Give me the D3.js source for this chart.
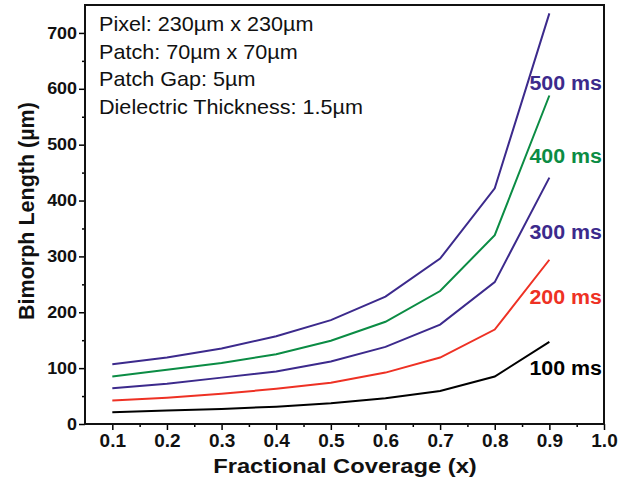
<!DOCTYPE html>
<html>
<head>
<meta charset="utf-8">
<script src="https://cdn.jsdelivr.net/npm/d3@7"></script>
<style>
body { margin: 0; background: #fff; }
text { font-family: Arial, "Liberation Sans", sans-serif; }
</style>
</head>
<body>
<svg id="chart" width="618" height="485"></svg>
<script>
// data
let coverage = [0.1, 0.2, 0.3, 0.4, 0.5, 0.6, 0.7, 0.8, 0.9];
let ms100 = [21, 24, 27, 31, 37, 46, 59, 85, 147];
let ms200 = [42, 47, 54, 63, 74, 92, 119, 169, 294];
let ms300 = [64, 72, 83, 94, 112, 138, 178, 254, 441];
let ms400 = [85, 97, 109, 125, 149, 183, 238, 338, 588];
let ms500 = [107, 119, 135, 157, 186, 228, 296, 422, 735];
let seriesNames = ["100 ms", "200 ms", "300 ms", "400 ms", "500 ms"];
let seriesColors = ["#000000", "#ee3124", "#3c2a8c", "#0b8c44", "#3c2a8c"];
let notes = ["Pixel: 230\u00b5m x 230\u00b5m", "Patch: 70\u00b5m x 70\u00b5m", "Patch Gap: 5\u00b5m", "Dielectric Thickness: 1.5\u00b5m"];
let xTicks = [0.1, 0.2, 0.3, 0.4, 0.5, 0.6, 0.7, 0.8, 0.9, 1.0];
let yTicks = [0, 100, 200, 300, 400, 500, 600, 700];

let allSeries = [ms100, ms200, ms300, ms400, ms500];

let svg = d3.select("#chart");
let mLeft = 85, mRight = 604, mTop = 5, mBottom = 424;

let x = d3.scaleLinear().domain([0.05, 1.0]).range([mLeft, mRight]);
let y = d3.scaleLinear().domain([0, 750]).range([mBottom, mTop]);

// the original text looks a bit wider than plain Arial, stretch it sideways
function stretch(sel, sx) {
    sel.each(function() {
        let t = d3.select(this);
        let ax = +t.attr("x") || 0;
        let ay = +t.attr("y") || 0;
        t.attr("transform", "translate(" + ax + "," + ay + ") scale(" + sx + ",1) translate(" + (-ax) + "," + (-ay) + ")");
    });
}

// minor ticks
let xMinor = d3.range(0.05, 1.0, 0.1).map(d => +d.toFixed(2)).filter(d => d > 0.06);
let yMinor = d3.range(50, 750, 100);

svg.append("g").attr("transform", "translate(0," + mBottom + ")")
    .call(d3.axisBottom(x).tickValues(xMinor).tickSize(3).tickFormat(""))
    .call(g => g.select(".domain").remove())
    .selectAll("line").attr("stroke-width", 1.5);

svg.append("g").attr("transform", "translate(" + mLeft + ",0)")
    .call(d3.axisLeft(y).tickValues(yMinor).tickSize(3).tickFormat(""))
    .call(g => g.select(".domain").remove())
    .selectAll("line").attr("stroke-width", 1.5);

let xAxis = svg.append("g").attr("transform", "translate(0," + mBottom + ")")
    .call(d3.axisBottom(x).tickValues(xTicks).tickSize(6).tickPadding(4).tickFormat(d3.format(".1f")));
xAxis.select(".domain").remove();
xAxis.selectAll("line").attr("stroke-width", 1.5);
xAxis.selectAll("text").attr("font-size", 19).attr("font-weight", "bold").attr("fill", "#111");

let yAxis = svg.append("g").attr("transform", "translate(" + mLeft + ",0)")
    .call(d3.axisLeft(y).tickValues(yTicks).tickSize(6).tickPadding(2));
yAxis.select(".domain").remove();
yAxis.selectAll("line").attr("stroke-width", 1.5);
yAxis.selectAll("text").attr("font-size", 16).attr("font-weight", "bold").attr("fill", "#111");
stretch(yAxis.selectAll("text"), 1.12);

// frame
svg.append("rect")
    .attr("x", mLeft).attr("y", mTop)
    .attr("width", mRight - mLeft).attr("height", mBottom - mTop)
    .attr("fill", "none").attr("stroke", "#111").attr("stroke-width", 2);

let line = d3.line().x((d, i) => x(coverage[i])).y(d => y(d));

allSeries.forEach(function(s, k) {
    svg.append("path")
        .attr("d", line(s))
        .attr("fill", "none")
        .attr("stroke", seriesColors[k])
        .attr("stroke-width", 2);
});

// series labels
let labelY = [368, 297, 232, 156, 83];
seriesNames.forEach(function(n, k) {
    svg.append("text")
        .attr("x", 602).attr("y", labelY[k] + 7)
        .attr("text-anchor", "end")
        .attr("font-size", 20).attr("font-weight", "bold")
        .attr("fill", seriesColors[k])
        .text(n)
        .call(stretch, 1.07);
});

// notes
notes.forEach(function(n, k) {
    svg.append("text")
        .attr("x", 99).attr("y", 31 + k * 27.7)
        .attr("font-size", 20)
        .attr("fill", "#111")
        .text(n)
        .call(stretch, 1.08);
});

svg.append("text")
    .attr("x", 345).attr("y", 473)
    .attr("text-anchor", "middle")
    .attr("font-size", 21).attr("font-weight", "bold").attr("fill", "#111")
    .text("Fractional Coverage (x)")
    .call(stretch, 1.13);

svg.append("text")
    .attr("transform", "translate(34,211) rotate(-90)")
    .attr("text-anchor", "middle")
    .attr("font-size", 21.5).attr("font-weight", "bold").attr("fill", "#111")
    .text("Bimorph Length (\u00b5m)");
</script>
</body>
</html>
